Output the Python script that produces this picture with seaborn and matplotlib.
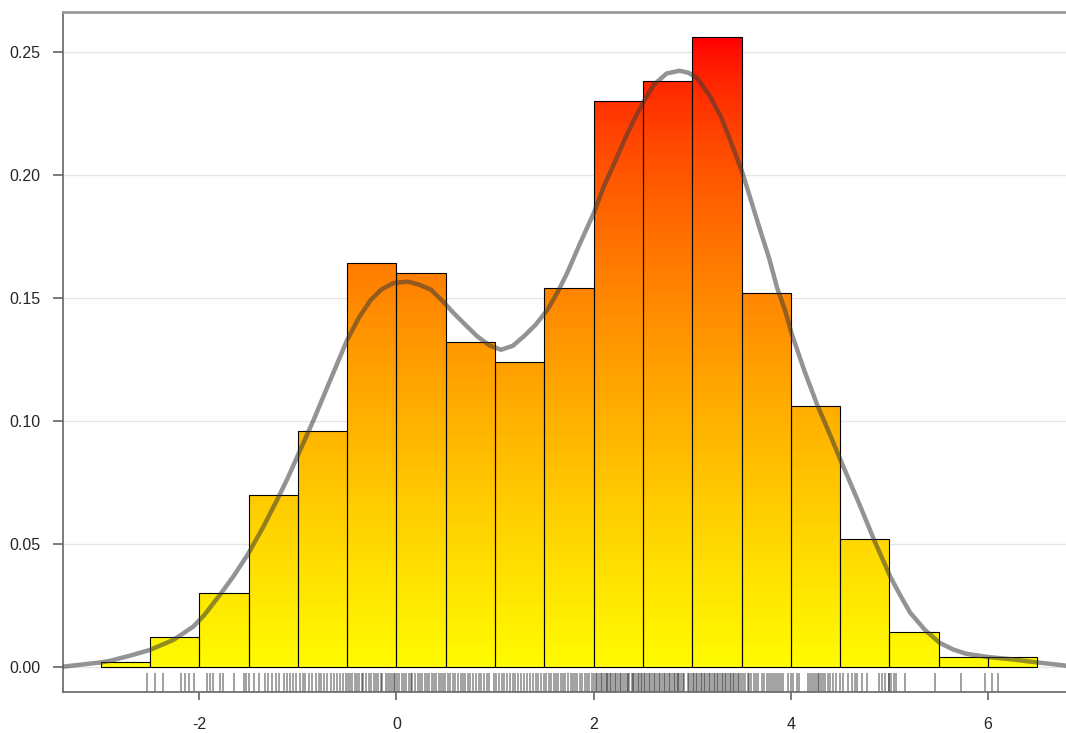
import numpy as np
import pandas as pd
import seaborn as sns
import matplotlib.pyplot as plt
from matplotlib.colors import LinearSegmentedColormap

# histogram: left bin edges (width 0.5) and density heights
bin_left = [-3.0, -2.5, -2.0, -1.5, -1.0, -0.5, 0.0, 0.5, 1.0, 1.5,
            2.0, 2.5, 3.0, 3.5, 4.0, 4.5, 5.0, 5.5, 6.0]
density = [0.002, 0.012, 0.030, 0.070, 0.096, 0.164, 0.160, 0.132, 0.124, 0.154,
           0.230, 0.238, 0.256, 0.152, 0.106, 0.052, 0.014, 0.004, 0.004]
bin_width = 0.5

# density curve, points
kde_x = [-3.38, -3.00, -2.90, -2.67, -2.50, -2.26, -2.06, -1.95, -1.79, -1.65, -1.50,
         -1.35, -1.21, -1.10, -0.99, -0.84, -0.67, -0.50, -0.38, -0.26, -0.15, -0.03,
         0.11, 0.22, 0.35, 0.46, 0.58, 0.70, 0.82, 0.95, 1.06, 1.18, 1.29, 1.41, 1.53,
         1.63, 1.73, 1.86, 2.00, 2.10, 2.21, 2.31, 2.41, 2.51, 2.61, 2.74, 2.87, 2.96,
         3.05, 3.17, 3.29, 3.40, 3.51, 3.60, 3.69, 3.78, 3.86, 3.94, 4.01, 4.14, 4.27,
         4.39, 4.50, 4.60, 4.70, 4.85, 5.01, 5.11, 5.21, 5.36, 5.51, 5.65, 5.78, 6.00,
         6.23, 6.50, 6.79]
kde_y = [0.0001, 0.0018, 0.0025, 0.0049, 0.0069, 0.0110, 0.0164, 0.0210, 0.0293, 0.0370,
         0.0462, 0.0570, 0.0679, 0.0770, 0.0869, 0.1004, 0.1167, 0.1329, 0.1420, 0.1492,
         0.1535, 0.1560, 0.1566, 0.1555, 0.1533, 0.1490, 0.1438, 0.1390, 0.1343, 0.1305,
         0.1289, 0.1305, 0.1343, 0.1390, 0.1451, 0.1520, 0.1600, 0.1720, 0.1844, 0.1950,
         0.2048, 0.2140, 0.2224, 0.2300, 0.2366, 0.2412, 0.2423, 0.2415, 0.2393, 0.2325,
         0.2237, 0.2125, 0.2007, 0.1890, 0.1773, 0.1660, 0.1541, 0.1450, 0.1352, 0.1200,
         0.1062, 0.0950, 0.0844, 0.0750, 0.0656, 0.0510, 0.0365, 0.0290, 0.0220, 0.0150,
         0.0097, 0.0070, 0.0053, 0.0040, 0.0031, 0.0018, 0.0005]

# rug positions (approximate reading of the tick marks under the bars)
rug_vals = [
    -2.53, -2.45, -2.37, -2.19, -2.14, -2.10, -2.05, -1.92, -1.89, -1.86, -1.79, -1.76,
    -1.65, -1.55, -1.53, -1.50,
    -1.44, -1.39, -1.33, -1.30, -1.26, -1.22, -1.19, -1.14, -1.11, -1.08, -1.05, -1.02,
    -0.98, -0.95, -0.93, -0.89, -0.86, -0.82, -0.79, -0.77, -0.73, -0.70, -0.66, -0.63,
    -0.60, -0.57, -0.54, -0.51,
    -0.49, -0.47, -0.45, -0.42, -0.40, -0.38, -0.35, -0.34, -0.31, -0.28, -0.26, -0.23,
    -0.21, -0.19, -0.16, -0.15, -0.11, -0.09, -0.07, -0.05, -0.03, -0.01,
    0.01, 0.03, 0.06, 0.08, 0.10, 0.13, 0.15, 0.16, 0.19, 0.22, 0.24, 0.26, 0.29, 0.31,
    0.33, 0.36, 0.38, 0.40, 0.43, 0.45, 0.47, 0.49,
    0.52, 0.54, 0.57, 0.59, 0.62, 0.65, 0.67, 0.70, 0.73, 0.75, 0.78, 0.81, 0.84, 0.86,
    0.89, 0.92, 0.94, 0.99,
    1.01, 1.04, 1.07, 1.09, 1.12, 1.15, 1.18, 1.20, 1.23, 1.26, 1.29, 1.32, 1.35, 1.38,
    1.41, 1.44, 1.47,
    1.50, 1.52, 1.55, 1.57, 1.60, 1.62, 1.64, 1.67, 1.69, 1.71, 1.74, 1.77, 1.79, 1.81,
    1.83, 1.86, 1.88, 1.91, 1.93, 1.95, 1.98,
    2.00, 2.02, 2.03, 2.05, 2.07, 2.08, 2.10, 2.12, 2.13, 2.15, 2.17, 2.18, 2.20, 2.22,
    2.23, 2.25, 2.27, 2.28, 2.30, 2.32, 2.34, 2.35, 2.36, 2.39, 2.40, 2.41, 2.43, 2.45,
    2.46, 2.48, 2.49,
    2.51, 2.52, 2.54, 2.56, 2.57, 2.59, 2.61, 2.62, 2.64, 2.66, 2.67, 2.69, 2.71, 2.72,
    2.74, 2.76, 2.77, 2.79, 2.81, 2.82, 2.84, 2.86, 2.87, 2.89, 2.91, 2.92, 2.96, 2.97,
    2.99,
    3.01, 3.02, 3.04, 3.05, 3.07, 3.09, 3.10, 3.12, 3.13, 3.15, 3.17, 3.18, 3.20, 3.22,
    3.23, 3.25, 3.26, 3.28, 3.30, 3.31, 3.33, 3.34, 3.36, 3.38, 3.39, 3.41, 3.42, 3.44,
    3.46, 3.47, 3.49,
    3.51, 3.53, 3.56, 3.58, 3.60, 3.63, 3.65, 3.67, 3.71, 3.73, 3.76, 3.78, 3.80, 3.82,
    3.84, 3.86, 3.88, 3.90, 3.92, 3.97,
    4.00, 4.02, 4.06, 4.08, 4.17, 4.19, 4.21, 4.23, 4.25, 4.27, 4.29, 4.31, 4.33, 4.35,
    4.38, 4.40, 4.43, 4.46, 4.50, 4.53, 4.58, 4.62, 4.65, 4.67, 4.72, 4.77, 4.89, 4.92,
    4.95, 4.99, 5.00, 5.02, 5.05, 5.07, 5.16, 5.46, 5.73, 5.97, 6.04, 6.10,
]

hist_df = pd.DataFrame({"center": [b + bin_width / 2 for b in bin_left], "density": density})
edges = bin_left + [bin_left[-1] + bin_width]

sns.set_style("white")
plt.rcParams["font.family"] = ["Liberation Sans", "DejaVu Sans"]

fig = plt.figure(figsize=(10.66, 7.33), dpi=100)
ax = fig.add_axes([0.059, 0.056, 0.941, 0.928])

sns.histplot(data=hist_df, x="center", weights="density", bins=edges, stat="count",
             edgecolor="black", linewidth=0.8, facecolor="none", ax=ax, zorder=3)

# yellow -> orange -> red gradient, coloured by absolute height
tt = np.linspace(0, 1, 64)
grad_cmap = LinearSegmentedColormap.from_list(
    "heat", [(1.0, 0.985 * (1 - t) ** 0.7, 0.0) for t in tt])
hmax = max(density)
for p in list(ax.patches):
    x0 = p.get_x()
    w = p.get_width()
    h = p.get_height()
    if h <= 0:
        continue
    grad = np.linspace(0, h / hmax, 200).reshape(-1, 1)
    im = ax.imshow(grad, extent=(x0, x0 + w, 0, h), origin="lower", aspect="auto",
                   cmap=grad_cmap, vmin=0, vmax=1, zorder=2, interpolation="bilinear")
    im.set_clip_path(p)
    p.set_facecolor("none")

sns.lineplot(x=kde_x, y=kde_y, color="#3a3a3a", alpha=0.55, linewidth=3.2, ax=ax, zorder=4,
             solid_capstyle="round", solid_joinstyle="round")
sns.rugplot(x=rug_vals, height=0.028, color="black", alpha=0.45, linewidth=1.15, ax=ax)

ax.set_xlim(-3.383, 6.79)
ax.set_ylim(-0.0102, 0.2663)
ax.set_xticks([-2, 0, 2, 4, 6])
ax.set_xticklabels(["-2", "0", "2", "4", "6"])
ax.set_yticks([0.0, 0.05, 0.10, 0.15, 0.20, 0.25])
ax.set_yticklabels(["0.00", "0.05", "0.10", "0.15", "0.20", "0.25"])
ax.yaxis.grid(True, color="#e6e6e6", linewidth=1.0, zorder=0)
ax.set_axisbelow(True)
ax.set_xlabel("")
ax.set_ylabel("")

ax.spines["right"].set_visible(False)
ax.spines["top"].set_color("#999999")
ax.spines["top"].set_linewidth(2.0)
for s in ["left", "bottom"]:
    ax.spines[s].set_color("#666666")
    ax.spines[s].set_linewidth(1.2)
ax.tick_params(axis="y", direction="out", length=7, width=1.2, color="#666666",
               labelsize=11.5, pad=9, left=True)
ax.tick_params(axis="x", direction="out", length=6, width=1.2, color="#666666",
               labelsize=11.5, pad=12, bottom=True)

fig.savefig("out.png", dpi=100)
